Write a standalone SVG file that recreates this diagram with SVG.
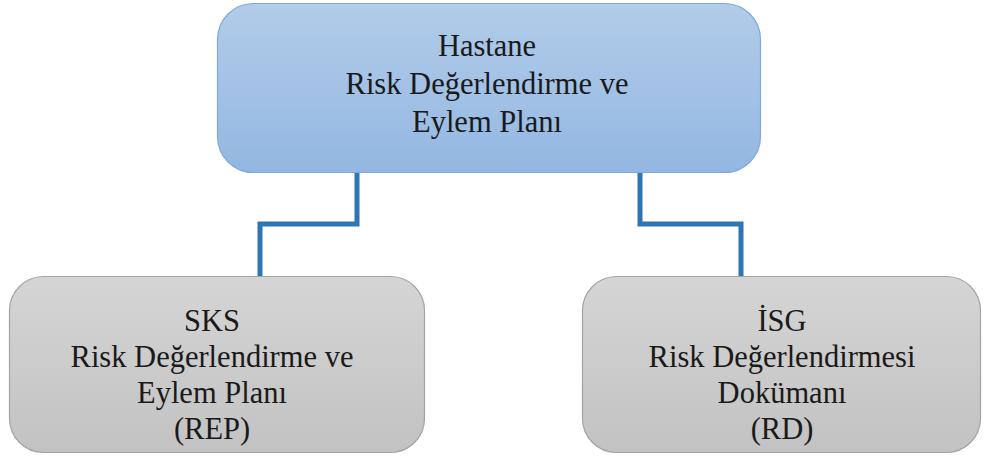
<svg xmlns="http://www.w3.org/2000/svg" width="988" height="457" viewBox="0 0 988 457">
<defs>
<linearGradient id="gBlue" x1="0" y1="0" x2="0" y2="1">
<stop offset="0" stop-color="#b2cce9"/>
<stop offset="1" stop-color="#93b7e2"/>
</linearGradient>
<linearGradient id="gGray" x1="0" y1="0" x2="0" y2="1">
<stop offset="0" stop-color="#d5d5d5"/>
<stop offset="1" stop-color="#c2c2c2"/>
</linearGradient>
<style>
.lbl{font-family:"Liberation Serif","DejaVu Serif",serif;font-size:30.5px;fill:#1a1a1a;text-anchor:middle}
.conn{fill:none;stroke:#2e75b6;stroke-width:5;stroke-linejoin:miter}
</style>
</defs>
<g id="connectors">
<polyline class="conn" points="357,172 357,224 260,224 260,277"/>
<polyline class="conn" points="640,172 640,224 741,224 741,277"/>
</g>
<g id="node-hastane">
<rect x="217.5" y="3.5" width="543" height="169" rx="36" fill="url(#gBlue)" stroke="#7fa9da" stroke-width="1.2"/>
<text class="lbl" x="487" y="56">Hastane</text>
<text class="lbl" x="487" y="94">Risk Değerlendirme ve</text>
<text class="lbl" x="487" y="132">Eylem Planı</text>
</g>
<g id="node-sks">
<rect x="9.5" y="276.5" width="415" height="176" rx="34" fill="url(#gGray)" stroke="#a3a3a3" stroke-width="1.2"/>
<text class="lbl" x="212" y="331">SKS</text>
<text class="lbl" x="212" y="367">Risk Değerlendirme ve</text>
<text class="lbl" x="212" y="403">Eylem Planı</text>
<text class="lbl" x="212" y="439">(REP)</text>
</g>
<g id="node-isg">
<rect x="582.5" y="276.5" width="398" height="176" rx="34" fill="url(#gGray)" stroke="#a3a3a3" stroke-width="1.2"/>
<text class="lbl" x="782" y="331">İSG</text>
<text class="lbl" x="782" y="367">Risk Değerlendirmesi</text>
<text class="lbl" x="782" y="403">Dokümanı</text>
<text class="lbl" x="782" y="439">(RD)</text>
</g>
</svg>
